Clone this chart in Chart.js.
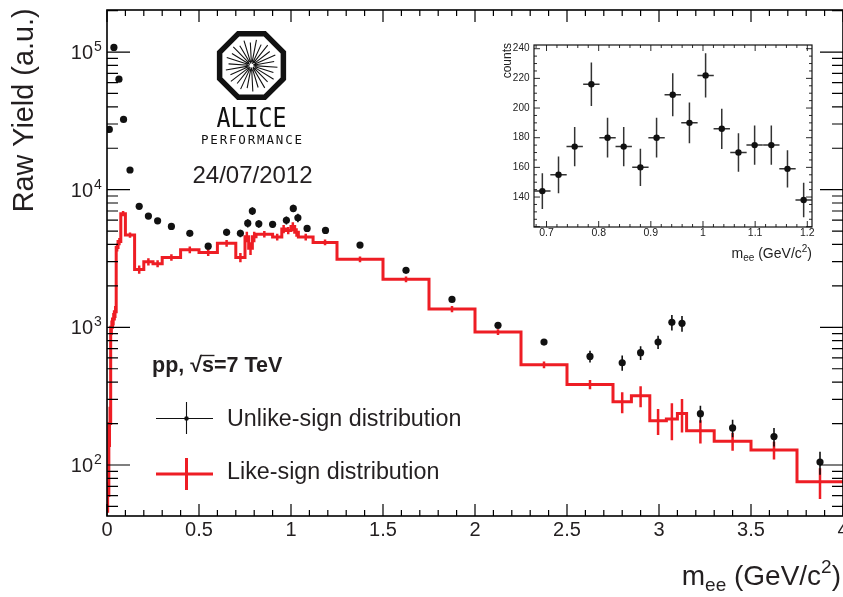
<!DOCTYPE html>
<html><head><meta charset="utf-8">
<script src="https://cdn.jsdelivr.net/npm/chart.js@4.4.0/dist/chart.umd.min.js"></script>
<style>
html,body{margin:0;padding:0;background:#fff;}
#wrap{position:relative;width:843px;height:597px;overflow:hidden;background:#fff;}
#main{position:absolute;left:0;top:0;width:843px;height:597px;}
#inset{position:absolute;left:480px;top:30px;width:360px;height:240px;}
</style></head><body>
<div id="wrap">
<canvas id="main" width="843" height="597"></canvas>
<canvas id="inset" width="360" height="240"></canvas>
</div>
<script>
const FONT = '"Liberation Sans", Arial, Helvetica, sans-serif';
const INK = '#231f20';
const RED = '#ee1d24';

// ---------- main plot data ----------
const xTickValues = [0, 0.5, 1, 1.5, 2, 2.5, 3, 3.5, 4];
const yDecades = [100, 1000, 10000, 100000];

// unlike-sign pairs (points at bin centres)
const unlikeX = [0.0125, 0.0375, 0.065, 0.09, 0.125, 0.175, 0.225, 0.275, 0.35, 0.45, 0.55, 0.65, 0.725, 0.765, 0.79, 0.825, 0.9, 0.975, 1.0125, 1.0375, 1.0875, 1.1875, 1.375, 1.625, 1.875, 2.125, 2.375, 2.625, 2.8, 2.9, 2.995, 3.07, 3.125, 3.225, 3.4, 3.625, 3.875];
const unlikeY = [27400, 108000, 63500, 32400, 13900, 7570, 6430, 5940, 5410, 4820, 3890, 4900, 4820, 5710, 7000, 5650, 5600, 5990, 7310, 6250, 5230, 5060, 3960, 2595, 1596, 1035, 782, 615, 553, 655, 782, 1087, 1069, 236, 186, 161, 105];
const unlikeErr = [600, 1200, 900, 600, 400, 250, 230, 220, 180, 170, 180, 300, 300, 400, 450, 350, 300, 400, 450, 450, 300, 250, 150, 100, 60, 40, 35, 60, 70, 75, 85, 140, 140, 33, 27, 25, 20];

// like-sign histogram (bin edges, contents, errors)
const likeEdges = [0, 0.01, 0.02, 0.03, 0.04, 0.05, 0.06, 0.075, 0.1, 0.15, 0.2, 0.25, 0.3, 0.4, 0.5, 0.6, 0.7, 0.75, 0.77, 0.79, 0.81, 0.9, 0.95, 0.97, 1.0, 1.02, 1.04, 1.12, 1.25, 1.5, 1.75, 2.0, 2.25, 2.5, 2.75, 2.85, 2.95, 3.04, 3.1, 3.15, 3.3, 3.5, 3.75, 4.0];
const likeY = [60, 200, 1000, 1150, 1300, 3800, 4200, 6700, 4680, 2630, 2990, 2900, 3220, 3660, 3500, 4080, 3220, 4550, 3750, 4550, 4750, 4530, 5180, 5050, 5400, 4900, 4530, 4140, 3120, 2234, 1358, 925, 535, 385, 288, 318, 210, 216, 237, 177, 149, 128.5, 75.7];
const likeErr = [15, 65, 120, 120, 130, 250, 250, 300, 200, 180, 180, 170, 180, 200, 200, 230, 250, 400, 400, 400, 250, 250, 350, 300, 400, 350, 250, 200, 150, 110, 70, 45, 30, 30, 50, 55, 45, 65, 65, 34, 22, 19, 19];

// ---------- inset data ----------
const insetX = [0.692, 0.723, 0.754, 0.786, 0.817, 0.848, 0.880, 0.911, 0.942, 0.974, 1.005, 1.036, 1.068, 1.099, 1.131, 1.162, 1.193];
const insetY = [144, 155, 174, 216, 180, 174, 160, 180, 209, 190, 222, 186, 170, 175, 175, 159, 138];
const insetErr = [12, 12.4, 13.2, 14.7, 13.4, 13.2, 12.6, 13.4, 14.5, 13.8, 14.9, 13.6, 13, 13.2, 13.2, 12.6, 11.7];
const insetHalfBin = [0.0157];
const insetXTicks = [0.7, 0.8, 0.9, 1.0, 1.1, 1.2];
const insetYTicks = [140, 160, 180, 200, 220, 240];

// ---------- helpers ----------
function clipArea(ctx, a) {
  ctx.beginPath(); ctx.rect(a.left, a.top, a.right - a.left, a.bottom - a.top); ctx.clip();
}
function drawSubSup(ctx, parts, xRight, baseline, color) {
  let total = 0;
  parts.forEach(p => { ctx.font = p[1] + 'px ' + FONT; p.w = ctx.measureText(p[0]).width; total += p.w; });
  let x = xRight - total;
  ctx.fillStyle = color; ctx.textAlign = 'left'; ctx.textBaseline = 'alphabetic';
  parts.forEach(p => { ctx.font = p[1] + 'px ' + FONT; ctx.fillText(p[0], x, baseline + p[2]); x += p.w; });
}

const likeLine = likeY.map((v, i) => ({x: likeEdges[i], y: v}));
likeLine.push({x: likeEdges[likeEdges.length - 1], y: likeY[likeY.length - 1]});
const unlikePts = unlikeX.map((v, i) => ({x: v, y: unlikeY[i]}));

const mainDeco = {
  id: 'mainDeco',
  beforeDatasetDraw(chart, args) {
    if (args.index !== 0) return;
    const {ctx, chartArea: a, scales: {x, y}} = chart;
    ctx.save(); clipArea(ctx, a);
    ctx.strokeStyle = '#111'; ctx.lineWidth = 1.6; ctx.beginPath();
    unlikeX.forEach((xv, i) => {
      const px = x.getPixelForValue(xv);
      ctx.moveTo(px, y.getPixelForValue(unlikeY[i] - unlikeErr[i]));
      ctx.lineTo(px, y.getPixelForValue(unlikeY[i] + unlikeErr[i]));
    });
    ctx.stroke(); ctx.restore();
  },
  afterDatasetDraw(chart, args) {
    if (args.index !== 1) return;
    const {ctx, chartArea: a, scales: {x, y}} = chart;
    ctx.save(); clipArea(ctx, a);
    ctx.strokeStyle = RED; ctx.lineWidth = 2.5; ctx.beginPath();
    likeY.forEach((v, i) => {
      const px = x.getPixelForValue((likeEdges[i] + likeEdges[i + 1]) / 2);
      ctx.moveTo(px, y.getPixelForValue(v - likeErr[i]));
      ctx.lineTo(px, y.getPixelForValue(v + likeErr[i]));
    });
    ctx.stroke(); ctx.restore();
  },
  afterDraw(chart) {
    const {ctx, chartArea: a, scales: {x, y}} = chart;
    ctx.save();
    // frame
    ctx.strokeStyle = '#000'; ctx.lineWidth = 1.6;
    ctx.strokeRect(a.left, a.top, a.right - a.left, a.bottom - a.top);
    // x ticks (inward, bottom and top)
    ctx.lineWidth = 1.2; ctx.beginPath();
    for (let k = 0; k <= 40; k++) {
      const px = x.getPixelForValue(k / 10);
      const L = (k % 5 === 0) ? 12 : 6;
      ctx.moveTo(px, a.bottom); ctx.lineTo(px, a.bottom - L);
      ctx.moveTo(px, a.top); ctx.lineTo(px, a.top + L);
    }
    // y ticks (log, inward, left and right)
    for (let d = 1; d <= 5; d++) {
      for (let m = 1; m <= 9; m++) {
        const v = m * Math.pow(10, d);
        if (v < y.min || v > y.max) continue;
        const py = y.getPixelForValue(v);
        const L = m === 1 ? 23 : 11;
        ctx.moveTo(a.left, py); ctx.lineTo(a.left + L, py);
        ctx.moveTo(a.right, py); ctx.lineTo(a.right - L, py);
      }
    }
    ctx.stroke();
    // x tick labels
    ctx.fillStyle = INK; ctx.font = '20px ' + FONT; ctx.textAlign = 'center'; ctx.textBaseline = 'middle';
    xTickValues.forEach(v => ctx.fillText(String(v), x.getPixelForValue(v), 530));
    // y tick labels 10^n
    yDecades.forEach(v => {
      const py = y.getPixelForValue(v);
      ctx.font = '20px ' + FONT; ctx.textAlign = 'right'; ctx.textBaseline = 'alphabetic';
      ctx.fillText('10', 93, py + 7);
      ctx.font = '14px ' + FONT; ctx.textAlign = 'left';
      ctx.fillText(String(Math.round(Math.log10(v))), 94, py - 1);
    });
    // y title
    ctx.save();
    ctx.translate(33, 8.5); ctx.rotate(-Math.PI / 2);
    ctx.font = '28.8px ' + FONT; ctx.textAlign = 'right'; ctx.textBaseline = 'alphabetic';
    ctx.fillText('Raw Yield (a.u.)', 0, 0);
    ctx.restore();
    // x title
    drawSubSup(ctx, [['m', 28, 0], ['ee', 19, 6], [' (GeV/c', 28, 0], ['2', 19, -12], [')', 28, 0]], 841, 585, INK);

    // legend
    ctx.fillStyle = INK; ctx.textAlign = 'left'; ctx.textBaseline = 'alphabetic';
    ctx.font = 'bold 21.5px ' + FONT;
    const s1 = 'pp, \u221A'; const s2 = 's'; const s3 = '=7 TeV';
    let lx = 152;
    ctx.fillText(s1, lx, 372); lx += ctx.measureText(s1).width;
    const sw = ctx.measureText(s2).width;
    ctx.fillText(s2, lx, 372);
    ctx.strokeStyle = INK; ctx.lineWidth = 1.4; ctx.beginPath();
    ctx.moveTo(lx - 1, 355.5); ctx.lineTo(lx + sw + 0.5, 355.5); ctx.stroke();
    lx += sw; ctx.fillText(s3, lx, 372);

    ctx.strokeStyle = '#111'; ctx.lineWidth = 1.1; ctx.beginPath();
    ctx.moveTo(156, 418.5); ctx.lineTo(213, 418.5);
    ctx.moveTo(186.5, 402); ctx.lineTo(186.5, 434); ctx.stroke();
    ctx.fillStyle = '#111'; ctx.beginPath(); ctx.arc(186.5, 418.5, 2.3, 0, Math.PI * 2); ctx.fill();
    ctx.strokeStyle = RED; ctx.lineWidth = 3; ctx.beginPath();
    ctx.moveTo(156, 474); ctx.lineTo(213, 474);
    ctx.moveTo(186.5, 458); ctx.lineTo(186.5, 490); ctx.stroke();
    ctx.fillStyle = INK; ctx.font = '23.3px ' + FONT;
    ctx.fillText('Unlike-sign distribution', 227, 425.5);
    ctx.fillText('Like-sign distribution', 227, 478.5);

    // ALICE logo
    const cx = 251.5, cy = 65.5;
    ctx.strokeStyle = '#111'; ctx.lineWidth = 5.5; ctx.lineJoin = 'miter';
    ctx.beginPath();
    for (let k = 0; k < 8; k++) {
      const ang = Math.PI / 8 + k * Math.PI / 4;
      const px = cx + 34.5 * Math.cos(ang), py = cy + 34.5 * Math.sin(ang);
      if (k === 0) ctx.moveTo(px, py); else ctx.lineTo(px, py);
    }
    ctx.closePath(); ctx.stroke();
    ctx.lineWidth = 1.1; ctx.beginPath();
    for (let k = 0; k < 26; k++) {
      const ang = k * 2 * Math.PI / 26 + 0.07;
      const r1 = 2 + (k % 3), r2 = 26 - (k % 2) * 3;
      ctx.moveTo(cx + r1 * Math.cos(ang), cy + r1 * Math.sin(ang));
      ctx.lineTo(cx + r2 * Math.cos(ang), cy + r2 * Math.sin(ang));
    }
    ctx.stroke();
    ctx.fillStyle = '#111'; ctx.textAlign = 'center';
    ctx.font = '27px "DejaVu Sans Mono", monospace';
    ctx.fillText('ALICE', cx, 127, 70);
    ctx.font = '12.5px "DejaVu Sans Mono", monospace';
    const perf = 'PERFORMANCE';
    for (let i = 0; i < perf.length; i++) ctx.fillText(perf[i], 200 + (i + 0.5) * 103 / perf.length, 144);
    ctx.fillStyle = INK; ctx.font = '24px ' + FONT;
    ctx.fillText('24/07/2012', 252.5, 182.5);
    ctx.restore();
  }
};

new Chart(document.getElementById('main'), {
  data: {
    datasets: [
      {type: 'scatter', label: 'Unlike-sign distribution', data: unlikePts, pointRadius: 3.6, pointHoverRadius: 3.6, pointBackgroundColor: '#111', pointBorderWidth: 0, showLine: false},
      {type: 'line', label: 'Like-sign distribution', data: likeLine, stepped: 'before', borderColor: RED, borderWidth: 3, pointRadius: 0, pointHoverRadius: 0, fill: false, tension: 0}
    ]
  },
  options: {
    responsive: false, animation: false, devicePixelRatio: 1, events: [],
    layout: {autoPadding: false, padding: {top: 10, left: 0, right: 0, bottom: 0}},
    plugins: {legend: {display: false}, tooltip: {enabled: false}},
    scales: {
      x: {type: 'linear', min: 0, max: 4,
        afterBuildTicks: s => { s.ticks = xTickValues.map(v => ({value: v})); },
        afterFit: s => { s.height = 81; },
        grid: {display: false, drawTicks: false}, border: {display: false},
        ticks: {display: false}},
      y: {type: 'logarithmic', min: 42.6, max: 202000,
        afterBuildTicks: s => { s.ticks = yDecades.map(v => ({value: v})); },
        afterFit: s => { s.width = 107; },
        grid: {display: false, drawTicks: false}, border: {display: false},
        ticks: {display: false}}
    }
  },
  plugins: [mainDeco]
});

// ---------- inset ----------
const insetPts = insetX.map((v, i) => ({x: v, y: insetY[i]}));
const insetDeco = {
  id: 'insetDeco',
  beforeDatasetDraw(chart) {
    const {ctx, chartArea: a, scales: {x, y}} = chart;
    ctx.save(); clipArea(ctx, a);
    ctx.strokeStyle = '#333'; ctx.lineWidth = 1.5; ctx.beginPath();
    insetX.forEach((xv, i) => {
      const px = x.getPixelForValue(xv), py = y.getPixelForValue(insetY[i]);
      ctx.moveTo(px, y.getPixelForValue(insetY[i] - insetErr[i]));
      ctx.lineTo(px, y.getPixelForValue(insetY[i] + insetErr[i]));
      ctx.moveTo(x.getPixelForValue(xv - insetHalfBin[0]), py);
      ctx.lineTo(x.getPixelForValue(xv + insetHalfBin[0]), py);
    });
    ctx.stroke(); ctx.restore();
  },
  afterDraw(chart) {
    const {ctx, chartArea: a, scales: {x, y}} = chart;
    ctx.save();
    ctx.strokeStyle = '#111'; ctx.lineWidth = 1.2;
    ctx.strokeRect(a.left, a.top, a.right - a.left, a.bottom - a.top);
    ctx.lineWidth = 0.9; ctx.beginPath();
    for (let k = 34; k <= 60; k++) {
      const v = k / 50;
      if (v < x.min || v > x.max) continue;
      const px = x.getPixelForValue(v);
      const L = (k % 5 === 0) ? 6 : 3;
      ctx.moveTo(px, a.bottom); ctx.lineTo(px, a.bottom - L);
      ctx.moveTo(px, a.top); ctx.lineTo(px, a.top + L);
    }
    for (let v = 120; v <= 240; v += 5) {
      const py = y.getPixelForValue(v);
      const L = (v % 20 === 0) ? 6 : 3;
      ctx.moveTo(a.left, py); ctx.lineTo(a.left + L, py);
      ctx.moveTo(a.right, py); ctx.lineTo(a.right - L, py);
    }
    ctx.stroke();
    ctx.fillStyle = '#222';
    ctx.font = '10.5px ' + FONT; ctx.textAlign = 'center'; ctx.textBaseline = 'middle';
    insetXTicks.forEach(v => ctx.fillText(String(v), x.getPixelForValue(v), 203));
    ctx.font = '10px ' + FONT; ctx.textAlign = 'right';
    insetYTicks.forEach(v => ctx.fillText(String(v), 49.5, y.getPixelForValue(v)));
    ctx.save();
    ctx.translate(30.5, 13); ctx.rotate(-Math.PI / 2);
    ctx.font = '12px ' + FONT; ctx.textAlign = 'right'; ctx.textBaseline = 'alphabetic';
    ctx.fillText('counts', 0, 0);
    ctx.restore();
    drawSubSup(ctx, [['m', 14, 0], ['ee', 10, 3], [' (GeV/c', 14, 0], ['2', 10, -6], [')', 14, 0]], 332, 228, '#222');
    ctx.restore();
  }
};

new Chart(document.getElementById('inset'), {
  data: {datasets: [{type: 'scatter', data: insetPts, pointRadius: 3.2, pointHoverRadius: 3.2, pointBackgroundColor: '#111', pointBorderWidth: 0}]},
  options: {
    responsive: false, animation: false, devicePixelRatio: 1, events: [],
    layout: {autoPadding: false, padding: {top: 15, left: 0, right: 28, bottom: 0}},
    plugins: {legend: {display: false}, tooltip: {enabled: false}},
    scales: {
      x: {type: 'linear', min: 0.676, max: 1.209,
        afterBuildTicks: s => { s.ticks = insetXTicks.map(v => ({value: v})); },
        afterFit: s => { s.height = 43; },
        grid: {display: false, drawTicks: false}, border: {display: false},
        ticks: {display: false}},
      y: {type: 'linear', min: 119.8, max: 242.5,
        afterBuildTicks: s => { s.ticks = insetYTicks.map(v => ({value: v})); },
        afterFit: s => { s.width = 54; },
        grid: {display: false, drawTicks: false}, border: {display: false},
        ticks: {display: false}}
    }
  },
  plugins: [insetDeco]
});
</script>
</body></html>
